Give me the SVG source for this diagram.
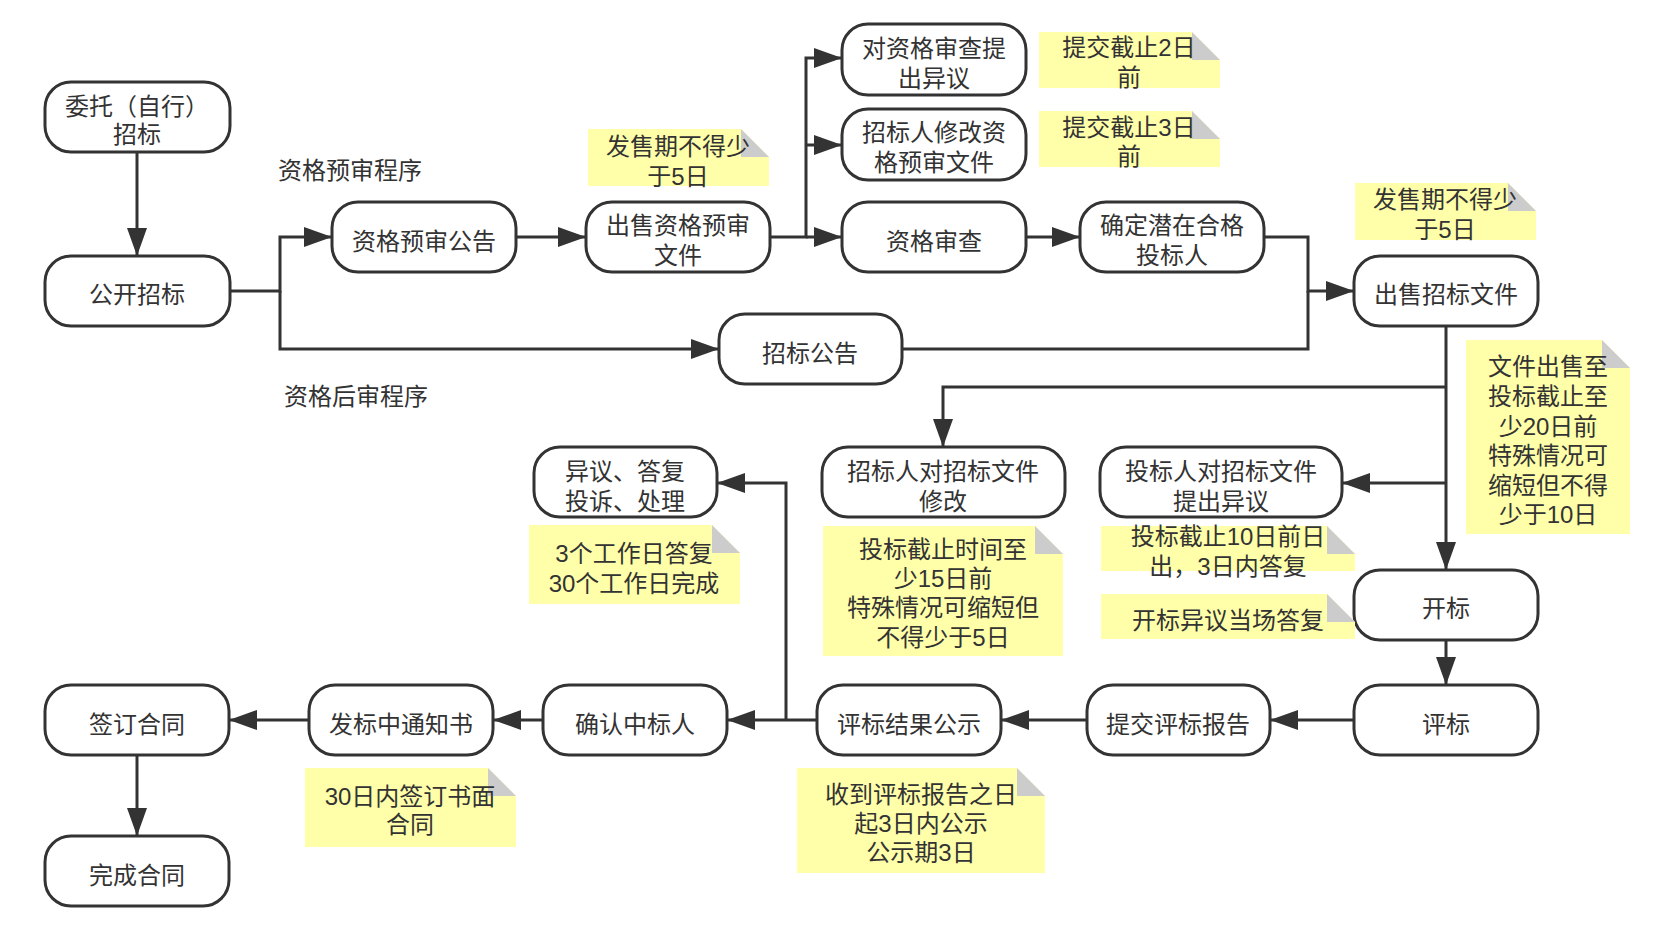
<svg xmlns="http://www.w3.org/2000/svg" width="1661" height="926" viewBox="0 0 1661 926">
<style>
.node rect{fill:#fff;stroke:#333;stroke-width:3}
.note .body{fill:#ffffaa}
.note .fold{fill:#cccccc}
text{font-family:"Liberation Sans","Noto Sans CJK SC",sans-serif;font-size:24px;fill:#333;text-anchor:middle;dominant-baseline:central}
#connectors path{fill:none;stroke:#333;stroke-width:3}
</style>
<defs>
<marker id="arr" markerUnits="userSpaceOnUse" markerWidth="28" markerHeight="20" refX="28" refY="10" orient="auto">
<path d="M0,0 L28,10 L0,20 z" fill="#333"/>
</marker>
</defs>
<rect width="1661" height="926" fill="#fff"/>

<g id="connectors">
<path d="M137,152 V256" marker-end="url(#arr)"/>
<path d="M230,291 H280 V237 H332" marker-end="url(#arr)"/>
<path d="M280,291 V349 H719" marker-end="url(#arr)"/>
<path d="M516,237 H586" marker-end="url(#arr)"/>
<path d="M770,237 H806 V58 H842" marker-end="url(#arr)"/>
<path d="M806,145 H842" marker-end="url(#arr)"/>
<path d="M806,237 H842" marker-end="url(#arr)"/>
<path d="M1026,237 H1080" marker-end="url(#arr)"/>
<path d="M1264,237 H1308 V291 H1354" marker-end="url(#arr)"/>
<path d="M902,349 H1308 V291"/>
<path d="M1446,326 V570" marker-end="url(#arr)"/>
<path d="M1446,387 H943 V447" marker-end="url(#arr)"/>
<path d="M1446,483 H1342" marker-end="url(#arr)"/>
<path d="M1446,640 V685" marker-end="url(#arr)"/>
<path d="M1354,720 H1270" marker-end="url(#arr)"/>
<path d="M1087,720 H1001" marker-end="url(#arr)"/>
<path d="M817,720 H727" marker-end="url(#arr)"/>
<path d="M786,720 V483 H717" marker-end="url(#arr)"/>
<path d="M543,720 H493" marker-end="url(#arr)"/>
<path d="M309,720 H229" marker-end="url(#arr)"/>
<path d="M137,755 V836" marker-end="url(#arr)"/>
</g>

<g id="n1" class="node"><rect x="45" y="82" width="185" height="70" rx="26"/><text x="137" y="106">委托（自行）<tspan x="137" y="134">招标</tspan></text></g>
<g id="n2" class="node"><rect x="45" y="256" width="185" height="70" rx="26"/><text x="137" y="294">公开招标</text></g>
<g id="n3" class="node"><rect x="332" y="202" width="184" height="70" rx="26"/><text x="424" y="241">资格预审公告</text></g>
<g id="n4" class="node"><rect x="586" y="202" width="184" height="70" rx="26"/><text x="678" y="225">出售资格预审<tspan x="678" y="255">文件</tspan></text></g>
<g id="n5" class="node"><rect x="842" y="24" width="184" height="71" rx="26"/><text x="934" y="48">对资格审查提<tspan x="934" y="78">出异议</tspan></text></g>
<g id="n6" class="node"><rect x="842" y="109" width="184" height="71" rx="26"/><text x="934" y="132">招标人修改资<tspan x="934" y="162">格预审文件</tspan></text></g>
<g id="n7" class="node"><rect x="842" y="202" width="184" height="70" rx="26"/><text x="934" y="241">资格审查</text></g>
<g id="n8" class="node"><rect x="1080" y="202" width="184" height="70" rx="26"/><text x="1172" y="225">确定潜在合格<tspan x="1172" y="255">投标人</tspan></text></g>
<g id="n9" class="node"><rect x="1354" y="256" width="184" height="70" rx="26"/><text x="1446" y="294">出售招标文件</text></g>
<g id="n10" class="node"><rect x="719" y="314" width="183" height="70" rx="26"/><text x="810" y="353">招标公告</text></g>
<g id="n11" class="node"><rect x="534" y="447" width="183" height="70" rx="26"/><text x="625" y="471">异议、答复<tspan x="625" y="501">投诉、处理</tspan></text></g>
<g id="n12" class="node"><rect x="822" y="447" width="243" height="70" rx="26"/><text x="943" y="471">招标人对招标文件<tspan x="943" y="501">修改</tspan></text></g>
<g id="n13" class="node"><rect x="1100" y="447" width="242" height="70" rx="26"/><text x="1221" y="471">投标人对招标文件<tspan x="1221" y="501">提出异议</tspan></text></g>
<g id="n14" class="node"><rect x="1354" y="570" width="184" height="70" rx="26"/><text x="1446" y="608">开标</text></g>
<g id="n15" class="node"><rect x="1354" y="685" width="184" height="70" rx="26"/><text x="1446" y="724">评标</text></g>
<g id="n16" class="node"><rect x="1087" y="685" width="183" height="70" rx="26"/><text x="1178" y="724">提交评标报告</text></g>
<g id="n17" class="node"><rect x="817" y="685" width="184" height="70" rx="26"/><text x="909" y="724">评标结果公示</text></g>
<g id="n18" class="node"><rect x="543" y="685" width="184" height="70" rx="26"/><text x="635" y="724">确认中标人</text></g>
<g id="n19" class="node"><rect x="309" y="685" width="184" height="70" rx="26"/><text x="401" y="724">发标中通知书</text></g>
<g id="n20" class="node"><rect x="45" y="685" width="184" height="70" rx="26"/><text x="137" y="724">签订合同</text></g>
<g id="n21" class="node"><rect x="45" y="836" width="184" height="70" rx="26"/><text x="137" y="875">完成合同</text></g>

<g id="lbl1"><text x="350" y="170">资格预审程序</text></g>
<g id="lbl2"><text x="356" y="396">资格后审程序</text></g>

<g id="noteA" class="note"><polygon class="body" points="588,129 741,129 769,157 769,186 588,186"/><polygon class="fold" points="741,129 741,157 769,157"/><text x="678" y="146">发售期不得少<tspan x="678" y="176">于5日</tspan></text></g>
<g id="noteB" class="note"><polygon class="body" points="1039,32 1192,32 1220,60 1220,88 1039,88"/><polygon class="fold" points="1192,32 1192,60 1220,60"/><text x="1129" y="47">提交截止2日<tspan x="1129" y="77">前</tspan></text></g>
<g id="noteC" class="note"><polygon class="body" points="1039,111 1192,111 1220,139 1220,167 1039,167"/><polygon class="fold" points="1192,111 1192,139 1220,139"/><text x="1129" y="127">提交截止3日<tspan x="1129" y="156">前</tspan></text></g>
<g id="noteD" class="note"><polygon class="body" points="1355,183 1508,183 1536,211 1536,240 1355,240"/><polygon class="fold" points="1508,183 1508,211 1536,211"/><text x="1445" y="199">发售期不得少<tspan x="1445" y="229">于5日</tspan></text></g>
<g id="noteE" class="note"><polygon class="body" points="1466,340 1602,340 1630,368 1630,534 1466,534"/><polygon class="fold" points="1602,340 1602,368 1630,368"/><text x="1548" y="366">文件出售至<tspan x="1548" y="396">投标截止至</tspan><tspan x="1548" y="426">少20日前</tspan><tspan x="1548" y="455">特殊情况可</tspan><tspan x="1548" y="485">缩短但不得</tspan><tspan x="1548" y="514">少于10日</tspan></text></g>
<g id="noteF" class="note"><polygon class="body" points="529,525 712,525 740,553 740,604 529,604"/><polygon class="fold" points="712,525 712,553 740,553"/><text x="634" y="553">3个工作日答复<tspan x="634" y="583">30个工作日完成</tspan></text></g>
<g id="noteG" class="note"><polygon class="body" points="823,526 1035,526 1063,554 1063,656 823,656"/><polygon class="fold" points="1035,526 1035,554 1063,554"/><text x="943" y="549">投标截止时间至<tspan x="943" y="578">少15日前</tspan><tspan x="943" y="607">特殊情况可缩短但</tspan><tspan x="943" y="637">不得少于5日</tspan></text></g>
<g id="noteH" class="note"><polygon class="body" points="1101,526 1327,526 1355,554 1355,571 1101,571"/><polygon class="fold" points="1327,526 1327,554 1355,554"/><text x="1228" y="536">投标截止10日前日<tspan x="1228" y="566">出，3日内答复</tspan></text></g>
<g id="noteI" class="note"><polygon class="body" points="1101,594 1327,594 1355,622 1355,639 1101,639"/><polygon class="fold" points="1327,594 1327,622 1355,622"/><text x="1228" y="620">开标异议当场答复</text></g>
<g id="noteJ" class="note"><polygon class="body" points="305,768 488,768 516,796 516,847 305,847"/><polygon class="fold" points="488,768 488,796 516,796"/><text x="410" y="796">30日内签订书面<tspan x="410" y="824">合同</tspan></text></g>
<g id="noteK" class="note"><polygon class="body" points="797,768 1017,768 1045,796 1045,873 797,873"/><polygon class="fold" points="1017,768 1017,796 1045,796"/><text x="921" y="794">收到评标报告之日<tspan x="921" y="823">起3日内公示</tspan><tspan x="921" y="852">公示期3日</tspan></text></g>
</svg>
